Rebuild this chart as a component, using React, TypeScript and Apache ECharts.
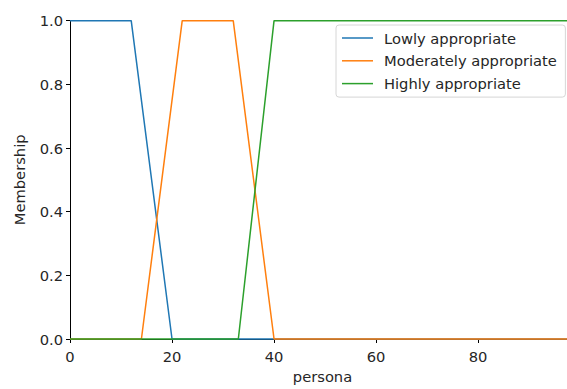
import React, { useEffect, useRef } from "react";
import * as echarts from "echarts";

const seriesNames = ["Lowly appropriate", "Moderately appropriate", "Highly appropriate"];
const lowlyPoints: [number, number][] = [[0, 1], [12, 1], [20, 0], [99, 0]];
const moderatePoints: [number, number][] = [[0, 0], [14, 0], [22, 1], [32, 1], [40, 0], [99, 0]];
const highlyPoints: [number, number][] = [[0, 0], [33, 0], [40, 1], [99, 1]];
const xTicks = [0, 20, 40, 60, 80];
const yTicks = [0, 0.2, 0.4, 0.6, 0.8, 1.0];

const colors = ["#1f77b4", "#ff7f0e", "#2ca02c"];
const FONT = "DejaVu Sans";
const FS = 14.7;

export default function App() {
  const ref = useRef<HTMLDivElement>(null);
  useEffect(() => {
    if (!ref.current) return;
    const chart = echarts.init(ref.current, null, { renderer: "svg" });
    const all = [lowlyPoints, moderatePoints, highlyPoints];
    chart.setOption({
      animation: false,
      backgroundColor: "#ffffff",
      textStyle: { fontFamily: FONT },
      grid: { left: 70, width: 505, top: 20.7, height: 325, containLabel: false },
      legend: {
        orient: "vertical",
        left: 336,
        top: 25,
        data: seriesNames,
        icon: "rect",
        itemWidth: 31,
        itemHeight: 1.5,
        itemGap: 7.8,
        padding: [5.5, 8.5, 6, 6],
        backgroundColor: "rgba(255,255,255,0.8)",
        borderColor: "#d6d6d6",
        borderWidth: 1,
        borderRadius: 3,
        textStyle: { fontFamily: FONT, fontSize: FS, lineHeight: FS, color: "#262626", padding: [0, 0, 0, 6] },
      },
      xAxis: {
        type: "value",
        min: 0,
        max: 99,
        interval: 20,
        name: "persona",
        nameLocation: "middle",
        nameGap: 30,
        nameTextStyle: { fontFamily: FONT, fontSize: FS, color: "#262626" },
        axisLine: { show: true, onZero: false, lineStyle: { color: "#000", width: 1 } },
        axisTick: { show: true, inside: false, length: 4, lineStyle: { color: "#000", width: 1 } },
        axisLabel: {
          fontFamily: FONT,
          fontSize: FS,
          color: "#262626",
          margin: 10,
          showMaxLabel: false,
          formatter: (v: number) => (xTicks.includes(v) ? String(v) : ""),
        },
        splitLine: { show: false },
      },
      yAxis: {
        type: "value",
        min: 0,
        max: 1,
        interval: 0.2,
        name: "Membership",
        nameLocation: "middle",
        nameGap: 43,
        nameTextStyle: { fontFamily: FONT, fontSize: FS, color: "#262626" },
        axisLine: { show: true, lineStyle: { color: "#000", width: 1 } },
        axisTick: { show: true, inside: false, length: 4, lineStyle: { color: "#000", width: 1 } },
        axisLabel: {
          fontFamily: FONT,
          fontSize: FS,
          color: "#262626",
          margin: 7,
          formatter: (v: number) => (yTicks.some((t) => Math.abs(t - v) < 1e-9) ? v.toFixed(1) : ""),
        },
        splitLine: { show: false },
      },
      series: seriesNames.map((name, i) => ({
        name,
        type: "line",
        data: all[i],
        showSymbol: false,
        symbol: "none",
        clip: false,
        z: 1,
        lineStyle: { color: colors[i], width: 1.5 },
        itemStyle: { color: colors[i] },
      })),
    });
    return () => chart.dispose();
  }, []);
  return (
    <div style={{ position: "fixed", left: 0, top: 0, width: 567, height: 389, overflow: "hidden", background: "#fff" }}>
      <div ref={ref} style={{ width: 620, height: 389 }} />
    </div>
  );
}
